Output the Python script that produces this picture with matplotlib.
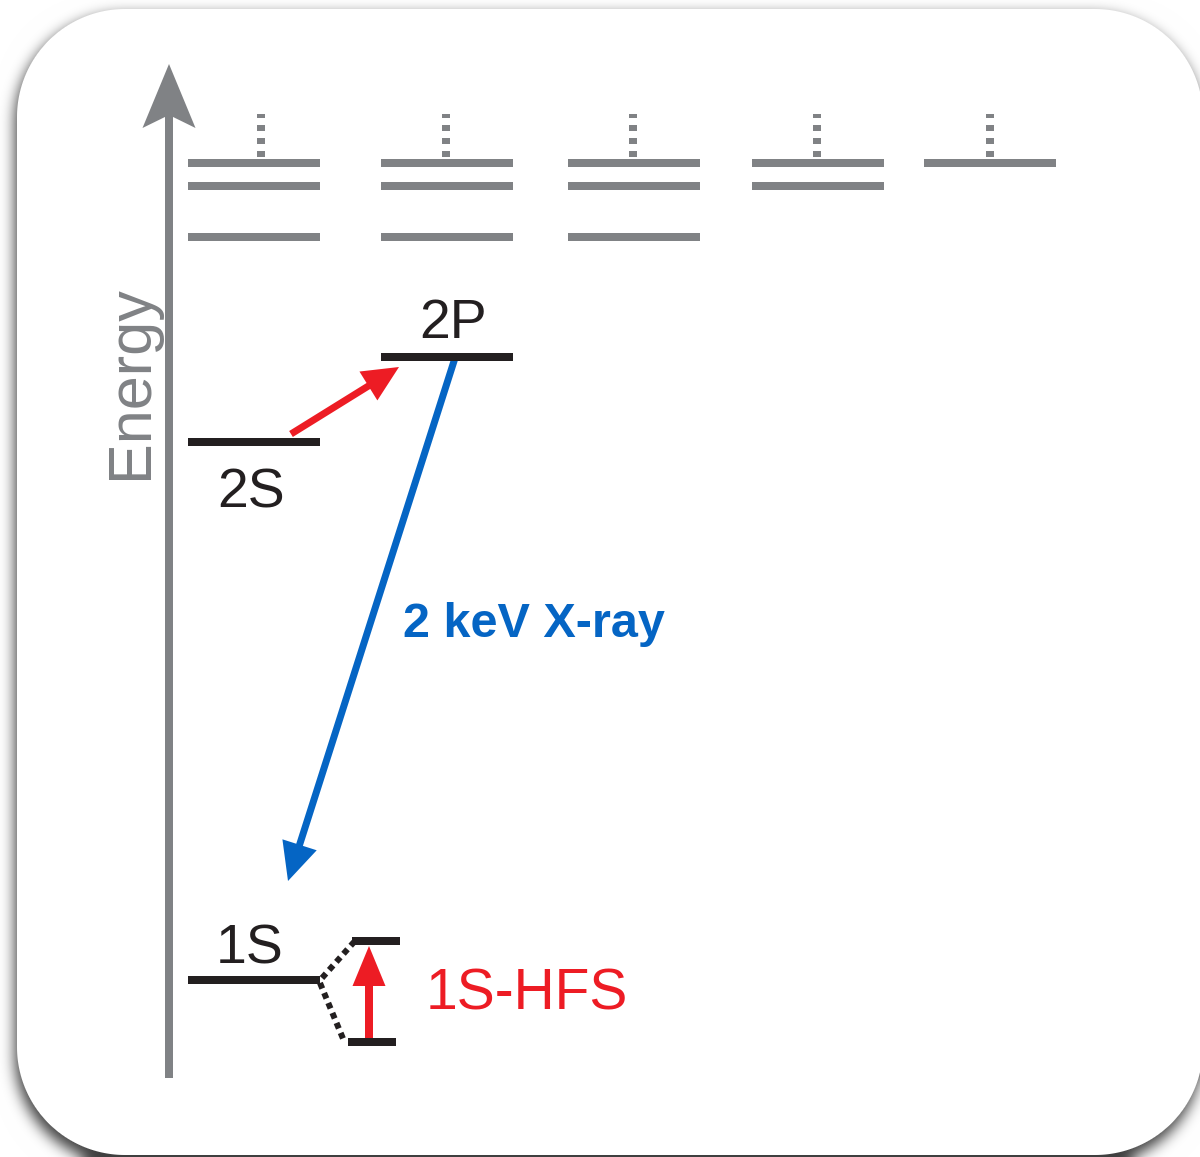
import numpy as np
import matplotlib
matplotlib.use("Agg")
import matplotlib.pyplot as plt
from matplotlib.patches import FancyArrow, Polygon

W, H = 1200, 1157
PX = 72 / 100  # one pixel in points at dpi 100

# grey ladder of higher levels, one column per orbital
col_left = [188, 381, 568, 752, 924]
col_levels = [[163, 186, 237], [163, 186, 237], [163, 186, 237], [163, 186], [163]]
col_dots_x = [261, 446, 633, 817, 990]
dots_top = 114
level_len = 132

# labelled states
state_names = ['2S', '2P', '1S']
state_left = [188, 381, 188]
state_y = [442, 357, 980]
label_x = [251, 453, 250]
label_y = [507, 338, 963]

# hyperfine split of 1S
hfs_left = [352, 348]
hfs_y = [941, 1042]
hfs_len = 48

grey = '#808285'
black = '#231F20'
red = '#ED1C24'
blue = '#0565C4'
font = 'Liberation Sans'


def rounded_box_sdf(xx, yy, x0, y0, x1, y1, r):
    cx, cy = (x0 + x1) / 2, (y0 + y1) / 2
    hx, hy = (x1 - x0) / 2 - r, (y1 - y0) / 2 - r
    qx = np.abs(xx - cx) - hx
    qy = np.abs(yy - cy) - hy
    outside = np.hypot(np.maximum(qx, 0), np.maximum(qy, 0))
    inside = np.minimum(np.maximum(qx, qy), 0)
    return outside + inside - r


def blur(img, sigma):
    n = int(3 * sigma)
    k = np.exp(-0.5 * (np.arange(-n, n + 1) / sigma) ** 2)
    k /= k.sum()
    pad = np.pad(img, n, mode='edge')
    out = np.apply_along_axis(lambda r: np.convolve(r, k, mode='valid'), 1, pad)
    out = np.apply_along_axis(lambda c: np.convolve(c, k, mode='valid'), 0, out)
    return out


# background card with drop shadow
xx, yy = np.meshgrid(np.arange(W) + 0.5, np.arange(H) + 0.5)
box = np.clip(0.5 - rounded_box_sdf(xx, yy, 17, 9, 1203, 1155, 108), 0, 1)
shadow_mask = np.clip(0.5 - rounded_box_sdf(xx, yy, 15, 15, 1201, 1164, 108), 0, 1)
shadow = blur(shadow_mask, 7) * 0.75
bg = (1 - shadow) * (1 - box) + box
bg = np.dstack([bg, bg, bg])

fig = plt.figure(figsize=(W / 100, H / 100), dpi=100)
ax = fig.add_axes([0, 0, 1, 1])
ax.imshow(bg, extent=(0, W, H, 0), interpolation='nearest', aspect='auto')
ax.set_xlim(0, W)
ax.set_ylim(H, 0)
ax.axis('off')

# energy axis
ax_x, ax_bottom, ax_tip = 169, 1078, 64
head_w, head_l, notch, shaft = 53, 64, 13, 8
back = ax_tip + head_l
meet = back - (head_w / 2 - shaft / 2) / (head_w / 2) * notch
pts = [(ax_x, ax_tip), (ax_x + head_w / 2, back), (ax_x + shaft / 2, meet),
       (ax_x + shaft / 2, ax_bottom), (ax_x - shaft / 2, ax_bottom),
       (ax_x - shaft / 2, meet), (ax_x - head_w / 2, back)]
ax.add_patch(Polygon(pts, closed=True, color=grey, lw=0))
ax.text(147, 382, 'Energy', rotation=90, rotation_mode='anchor', ha='center',
        va='baseline', fontsize=44, color=grey, family=font)

# grey levels and dotted continuation
for left, levels, dx in zip(col_left, col_levels, col_dots_x):
    ax.hlines(levels, left, left + level_len, colors=grey, lw=8 * PX,
              capstyle='butt')
    ax.plot([dx, dx], [min(levels) - 6, dots_top], color=grey, lw=8 * PX,
            dashes=(6 / 8, 7 / 8), solid_capstyle='butt', dash_capstyle='butt')

# black levels
for name, left, y, lx, ly in zip(state_names, state_left, state_y, label_x, label_y):
    ax.hlines(y, left, left + level_len, colors=black, lw=8 * PX, capstyle='butt')
    ax.text(lx, ly, name, ha='center', va='baseline', fontsize=40, color=black,
            family=font)

# hyperfine levels
for left, y in zip(hfs_left, hfs_y):
    ax.hlines(y, left, left + hfs_len, colors=black, lw=8 * PX, capstyle='butt')
s1_end = state_left[2] + level_len
ax.plot([s1_end + 2, hfs_left[0] + 2], [state_y[2] - 2, hfs_y[0] + 1], color=black,
        lw=6 * PX, dashes=(1.0, 0.8), dash_capstyle='butt')
ax.plot([s1_end, hfs_left[1] - 4], [state_y[2] + 3, hfs_y[1] - 1], color=black,
        lw=6 * PX, dashes=(1.0, 0.8), dash_capstyle='butt')

# 2S -> 2P laser transition
x0, y0, x1, y1 = 291, 434, 399, 367
ax.add_patch(FancyArrow(x0, y0, x1 - x0, y1 - y0, width=7, head_width=34,
                        head_length=36, length_includes_head=True, color=red, lw=0))

# 2P -> 1S X-ray
x0, y0, x1, y1 = 455, 358, 288, 881
ax.add_patch(FancyArrow(x0, y0, x1 - x0, y1 - y0, width=7, head_width=36,
                        head_length=38, length_includes_head=True, color=blue, lw=0))
ax.text(403, 637, '2 keV X-ray', ha='left', va='baseline', fontsize=35,
        fontweight='bold', color=blue, family=font)

# hyperfine transition
hx = 369
ax.add_patch(FancyArrow(hx, hfs_y[1] - 4, 0, hfs_y[0] + 5 - (hfs_y[1] - 4), width=8,
                        head_width=33, head_length=40, length_includes_head=True,
                        color=red, lw=0))
ax.text(426, 1010, '1S-HFS', ha='left', va='baseline', fontsize=41, color=red,
        family=font)

fig.savefig('out.png', dpi=100)
